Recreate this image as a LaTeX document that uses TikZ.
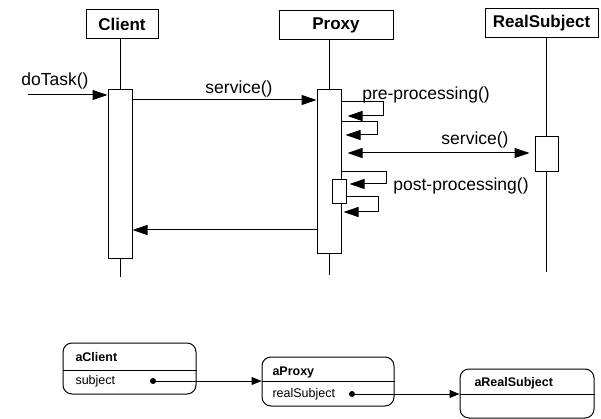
\documentclass[tikz,border=0pt]{standalone}
\usepackage{fontspec}
\setmainfont{Liberation Sans}
\usetikzlibrary{arrows.meta}
\usetikzlibrary{positioning}
\usetikzlibrary{calc}

\begin{document}
\begin{tikzpicture}[x=1pt,y=-1pt,line width=1pt,
        head/.style={draw, inner sep=0pt, minimum height=29pt, font=\bfseries\fontsize{17}{20}\selectfont},
        act/.style={draw, fill=white, inner sep=0pt, minimum width=24pt},
        lbl/.style={inner sep=0pt, font=\fontsize{17.5}{20}\selectfont},
        msg/.style={-{Triangle[length=15pt,width=10pt]}},
        obj/.style={draw, rounded corners=9pt, inner sep=0pt},
        objname/.style={anchor=west, inner sep=0pt, font=\bfseries\fontsize{12.5}{14}\selectfont},
        attr/.style={anchor=west, inner sep=0pt, font=\fontsize{12.5}{14}\selectfont},
        dotn/.style={circle, fill, inner sep=0pt, minimum size=6pt},
        ref/.style={-{Triangle[length=10pt,width=8pt]}}]
        \useasboundingbox (0,0) rectangle (601,419);
        % sequence diagram
        \node[head, minimum width=72pt] (client) at (122,24) {Client};
        \node[head, minimum width=114pt] (proxy) at (336,25) {Proxy};
        \node[head, minimum width=113pt] (real) at (541.5,23) {RealSubject};
        \node[act, minimum height=168pt] (act_c) at (120,174) {};
        \node[act, minimum height=163pt] (act_p) at (329,171.5) {};
        \node[act, minimum width=23pt, minimum height=35pt] (act_r) at (546.5,154.5) {};
        \coordinate (end_c) at (120,277);
        \coordinate (end_p) at (329,275);
        \coordinate (end_r) at (548,272);
        \coordinate (task) at (28,95);
        \draw (act_c.north) -- (act_c.north |- client.south);
        \draw (act_c.south) -- (end_c);
        \draw (act_p.north) -- (act_p.north |- proxy.south);
        \draw (act_p.south) -- (end_p);
        \draw (act_r.north) -- (act_r.north |- real.south);
        \draw (act_r.south) -- (act_r.south |- end_r);
        \node[act, minimum width=14pt, minimum height=24pt] (act_pp) at (339,192) {};
        \draw[msg] (task) -- (task -| act_c.west);
        \draw[msg] (act_c.east |- 0,100) -- (act_p.west |- 0,100);
        \draw[msg, shorten >=6pt] (act_p.east |- 0,102) -- ++(42,0) |- (act_p.east |- 0,116);
        \draw[msg, shorten >=4pt] (act_p.east |- 0,122) -- ++(36,0) |- (act_p.east |- 0,135);
        \draw[{Triangle[length=15pt,width=10pt]}-{Triangle[length=15pt,width=10pt]}, shorten <=6pt, shorten >=5pt]
            (act_p.east |- 0,153) -- (act_r.west |- 0,153);
        \draw[msg, shorten >=3pt] (act_p.east |- 0,172) -- ++(45,0) |- (act_pp.east |- 0,184);
        \draw[msg, shorten >=2pt] (act_pp.east |- 0,197) -- ++(32,0) |- (act_p.east |- 0,212);
        \draw[msg] (act_p.west |- 0,230) -- (act_c.east |- 0,230);
        \node[lbl] (l_task) at (55,81) {doTask()};
        \node[lbl] (l_serv) at (239,89) {service()};
        \node[lbl] (l_pre) at (426,95) {pre-processing()};
        \node[lbl] (l_serv2) at (475,140) {service()};
        \node[lbl] (l_post) at (461,186) {post-processing()};
        % object diagram
        \node[obj, minimum width=133pt, minimum height=51pt] (o_client) at (129.5,368.5) {};
        \node[obj, minimum width=132pt, minimum height=49pt] (o_proxy) at (328,381.5) {};
        \node[obj, minimum width=134pt, minimum height=49pt] (o_real) at (527,393.5) {};
        \draw (o_client.west |- 0,370) -- (o_client.east |- 0,370);
        \draw (o_proxy.west |- 0,381) -- (o_proxy.east |- 0,381);
        \draw (o_real.west |- 0,394) -- (o_real.east |- 0,394);
        \node[objname] (n_client) at (75,357) {aClient};
        \node[attr] (a_subj) at (75,381) {subject};
        \node[objname] (n_proxy) at (272,372) {aProxy};
        \node[attr] (a_real) at (272,394) {realSubject};
        \node[objname] (n_real) at (474,383) {aRealSubject};
        \node[dotn] (d_subj) at (153,381) {};
        \node[dotn] (d_real) at (352,394) {};
        \draw[ref] (d_subj.center) -- (d_subj -| o_proxy.west);
        \draw[ref] (d_real.center) -- (d_real -| o_real.west);
    \end{tikzpicture}
\end{document}
